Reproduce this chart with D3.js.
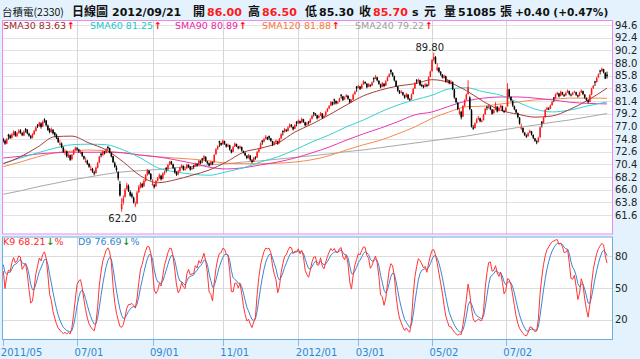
<!DOCTYPE html>
<html><head><meta charset="utf-8">
<script src="https://cdn.jsdelivr.net/npm/d3@7"></script>
<style>
html,body{margin:0;padding:0;background:#e3f2fc;}
svg{display:block;}
</style></head><body>
<svg id="c" width="640" height="359"></svg>
<script>
// daily candles [open, high, low, close], 2011/05 .. 2012/09/21
const ohlc = [
[74.8,75.0,74.2,74.5],[74.5,74.7,73.8,74.0],[74.0,75.0,73.9,74.8],[75.5,75.7,74.7,75.3],[75.4,75.6,74.8,75.0],[75.0,75.8,74.9,75.6],[75.5,76.3,75.4,76.0],[76.1,76.2,75.2,75.4],[75.3,76.0,75.1,75.8],[75.9,76.5,75.7,76.2],
[76.3,76.5,75.7,75.9],[75.8,76.0,75.3,75.5],[75.4,76.3,75.3,76.1],[76.5,76.7,75.9,76.3],[76.4,76.5,75.6,75.8],[75.7,75.9,75.2,75.4],[75.3,75.5,74.8,75.0],[75.0,75.8,74.9,75.6],[75.6,76.4,75.5,76.2],[76.2,77.0,76.1,76.8],
[77.2,77.4,76.7,77.0],[77.1,77.8,76.9,77.6],[77.5,77.7,76.6,76.9],[77.0,78.0,76.9,77.8],[78.2,78.4,77.6,78.0],[78.0,78.1,77.0,77.2],[77.1,77.3,76.2,76.4],[76.5,76.7,75.8,76.0],[76.0,76.8,75.9,76.5],[76.4,76.5,75.6,75.8],
[75.9,76.0,75.2,75.5],[75.5,75.7,74.8,75.0],[75.0,75.1,74.1,74.3],[73.8,74.6,73.7,74.0],[74.0,74.2,73.2,73.4],[73.3,73.5,72.4,72.6],[72.4,73.0,72.0,72.5],[72.6,72.8,71.6,71.8],[71.7,72.3,71.5,72.0],[72.0,72.1,71.0,71.2],
[71.3,72.2,71.1,72.0],[72.1,73.0,72.0,72.8],[72.9,73.5,72.7,73.2],[73.2,73.4,72.8,73.0],[73.0,73.1,72.4,72.6],[72.5,72.9,72.2,72.5],[72.5,72.6,71.7,71.9],[71.8,71.9,71.2,71.4],[70.8,71.6,70.7,71.0],[71.0,71.2,70.3,70.5],
[70.5,70.6,69.8,70.0],[69.4,70.2,69.3,69.6],[69.6,69.8,68.9,69.2],[69.0,69.3,68.5,68.8],[68.9,70.0,68.8,69.8],[69.8,70.8,69.7,70.6],[70.7,71.9,70.6,71.7],[72.2,72.4,71.6,72.0],[72.0,72.8,71.9,72.6],[72.6,72.7,72.1,72.4],
[72.4,73.2,72.3,73.0],[73.4,73.6,72.9,73.2],[73.2,73.3,72.3,72.5],[72.4,72.5,71.6,71.8],[71.8,71.9,70.6,70.8],[70.6,70.9,69.8,70.0],[69.8,70.2,69.1,69.4],[69.0,69.2,67.6,68.0],[67.0,67.5,64.8,65.0],[62.6,64.5,62.2,63.5],
[63.8,65.0,63.4,64.5],[64.8,66.3,64.6,66.0],[66.2,67.2,66.0,66.8],[66.6,66.9,65.6,65.8],[65.6,65.9,64.8,65.0],[65.2,65.5,64.5,64.8],[64.6,64.8,63.6,63.8],[63.5,63.9,63.0,63.5],[63.6,65.8,63.5,65.5],[65.6,66.8,65.4,66.5],
[66.4,67.3,66.2,67.0],[67.0,67.2,66.3,66.5],[66.6,67.8,66.5,67.5],[67.5,68.7,67.4,68.5],[68.6,69.6,68.4,69.4],[69.3,69.4,68.6,68.8],[68.7,68.9,67.6,67.8],[66.8,67.8,66.7,67.0],[66.8,67.0,66.2,66.5],[66.6,67.7,66.5,67.5],
[67.6,68.2,67.4,68.0],[68.0,68.8,67.9,68.5],[68.4,68.6,67.6,67.8],[67.9,69.0,67.8,68.8],[68.8,69.3,68.6,69.0],[69.8,69.9,69.0,69.5],[69.5,70.5,69.4,70.3],[70.4,71.0,70.2,70.8],[70.9,71.0,70.3,70.5],[70.4,70.5,69.6,69.8],
[69.7,69.9,68.8,69.0],[69.0,69.2,68.4,68.6],[68.7,69.4,68.5,69.2],[69.2,70.0,69.1,69.8],[69.9,70.4,69.7,70.2],[70.1,70.2,69.3,69.5],[69.5,69.9,69.3,69.6],[69.7,70.5,69.6,70.3],[70.3,70.4,69.8,70.0],[70.0,70.1,69.3,69.5],
[69.6,70.0,69.4,69.8],[70.2,70.3,69.6,70.0],[70.1,70.7,70.0,70.5],[70.5,70.6,70.0,70.2],[70.3,71.2,70.2,71.0],[71.0,71.1,70.4,70.6],[71.4,71.5,70.6,71.2],[71.3,72.0,71.1,71.8],[71.7,71.8,70.8,71.0],[70.9,71.0,70.4,70.6],
[70.6,70.7,70.0,70.2],[70.3,71.0,70.2,70.8],[70.8,70.9,70.3,70.5],[70.8,72.2,70.7,72.0],[72.2,73.2,72.0,73.0],[73.1,73.7,72.9,73.5],[74.4,74.5,73.4,74.2],[74.1,74.2,73.6,73.8],[73.9,74.7,73.8,74.5],[74.4,74.5,73.8,74.0],
[73.9,74.0,73.3,73.5],[73.5,74.0,73.4,73.8],[73.7,73.8,72.8,73.0],[72.9,73.0,72.3,72.5],[72.6,73.6,72.5,73.4],[73.5,74.2,73.4,74.0],[73.9,74.0,73.4,73.6],[73.5,73.6,73.0,73.2],[73.2,73.7,73.1,73.5],[73.4,73.5,72.6,72.8],
[72.7,72.8,72.3,72.5],[72.4,72.5,71.8,72.0],[71.9,72.0,71.3,71.5],[71.5,72.2,71.4,72.0],[71.9,72.0,71.0,71.2],[71.1,71.3,70.6,70.8],[70.9,71.7,70.8,71.5],[71.6,71.8,71.2,71.5],[71.6,72.7,71.5,72.5],[72.6,73.2,72.4,73.0],
[73.1,74.2,73.0,74.0],[74.5,74.6,73.8,74.3],[74.4,75.0,74.2,74.8],[74.9,75.5,74.7,75.2],[75.1,75.2,74.6,74.8],[75.3,75.4,74.6,75.0],[74.9,75.0,74.3,74.5],[74.4,74.5,73.6,73.8],[73.9,74.4,73.7,74.2],[74.2,74.7,74.0,74.5],
[74.4,74.5,73.8,74.0],[74.1,75.0,74.0,74.8],[74.9,75.8,74.8,75.6],[76.2,76.3,75.4,76.0],[76.1,76.7,75.9,76.5],[76.4,76.5,76.0,76.2],[76.2,77.0,76.1,76.8],[76.9,77.5,76.7,77.3],[77.2,77.4,76.8,77.0],[76.9,77.0,76.3,76.5],
[76.6,77.4,76.5,77.2],[77.8,77.9,77.0,77.5],[77.6,78.2,77.4,78.0],[77.9,78.0,77.4,77.6],[77.7,78.5,77.6,78.3],[78.2,78.3,77.6,77.8],[77.7,77.8,77.0,77.2],[77.3,77.7,77.1,77.5],[77.8,77.9,77.3,77.6],[77.7,78.4,77.6,78.2],
[78.3,79.0,78.2,78.8],[79.4,79.5,78.7,79.2],[79.2,79.3,78.8,79.0],[78.9,79.0,78.2,78.4],[78.5,79.0,78.4,78.8],[78.9,79.5,78.8,79.3],[79.2,79.3,78.3,78.5],[78.5,79.0,78.4,78.8],[78.9,79.7,78.8,79.5],[79.6,80.2,79.5,80.0],
[80.1,80.7,80.0,80.5],[80.6,81.4,80.5,81.2],[81.2,81.3,80.6,80.8],[81.7,81.8,80.8,81.5],[81.4,81.5,80.8,81.0],[81.0,81.4,80.9,81.2],[81.3,82.0,81.2,81.8],[82.5,82.6,81.8,82.3],[82.2,82.3,81.4,81.6],[81.7,82.2,81.6,82.0],
[82.1,82.6,82.0,82.4],[82.3,82.4,81.6,81.8],[81.7,81.8,81.0,81.2],[81.3,81.7,81.1,81.5],[81.6,82.7,81.5,82.5],[82.6,83.2,82.5,83.0],[83.9,84.0,83.0,83.6],[83.7,84.2,83.6,84.0],[83.9,84.0,83.3,83.5],[83.6,84.4,83.5,84.2],
[84.3,85.0,84.2,84.8],[84.7,84.8,84.3,84.5],[84.4,84.5,83.6,83.8],[83.9,84.5,83.8,84.3],[84.2,84.3,83.8,84.0],[84.1,84.8,84.0,84.6],[85.4,85.5,84.6,85.2],[85.3,85.9,85.2,85.6],[85.5,85.6,84.8,85.0],[84.9,85.0,84.2,84.4],
[84.3,84.4,83.6,83.8],[83.9,84.7,83.8,84.5],[84.4,84.5,83.8,84.0],[84.1,85.0,84.0,84.8],[84.9,85.7,84.8,85.5],[85.6,86.2,85.5,86.0],[86.8,86.9,86.0,86.4],[86.3,86.4,85.6,85.8],[85.7,85.8,84.8,85.0],[84.9,85.0,83.8,84.0],
[83.9,84.0,83.0,83.2],[83.1,83.3,82.6,82.8],[82.9,83.3,82.7,83.0],[82.9,83.0,82.3,82.5],[82.4,82.5,81.8,82.0],[82.1,82.8,82.0,82.6],[82.5,82.6,81.6,81.8],[81.7,81.9,81.4,81.6],[81.7,82.7,81.6,82.5],[82.6,83.7,82.5,83.5],
[83.6,84.7,83.5,84.5],[85.0,85.2,84.4,84.8],[84.9,85.3,84.7,85.0],[85.0,85.1,84.0,84.2],[84.2,84.4,83.8,84.0],[84.0,84.2,83.6,83.8],[83.9,84.5,83.8,84.3],[84.2,84.4,83.8,84.0],[84.1,85.7,84.0,85.5],[85.6,86.7,85.5,86.5],
[86.6,88.7,86.5,88.5],[88.6,89.8,88.3,89.0],[89.0,89.2,87.8,88.0],[86.8,88.0,86.6,87.2],[87.1,87.3,86.3,86.5],[86.4,86.6,85.8,86.0],[85.9,86.1,85.3,85.5],[85.4,86.0,85.3,85.8],[85.7,85.8,84.6,84.8],[84.8,85.2,84.6,85.0],
[85.0,85.1,84.3,84.5],[84.4,85.0,84.3,84.8],[84.7,84.8,83.3,83.5],[83.4,83.5,81.8,82.0],[81.9,82.0,81.0,81.2],[81.1,81.2,79.8,80.0],[79.2,80.1,79.0,79.6],[79.5,79.7,78.2,78.6],[78.7,80.7,78.6,80.5],[80.6,81.7,80.4,81.5],
[81.6,82.7,81.5,82.5],[82.6,85.0,82.5,83.8],[82.0,82.2,79.8,80.0],[79.8,80.0,76.8,77.0],[76.8,77.2,76.4,76.6],[76.7,77.7,76.6,77.5],[77.6,78.4,77.5,78.2],[78.3,78.8,78.1,78.5],[78.4,78.5,77.7,77.9],[77.8,78.2,77.7,78.0],
[78.1,79.2,78.0,79.0],[79.1,80.2,79.0,80.0],[80.4,80.5,79.8,80.2],[80.3,80.8,80.1,80.5],[80.4,80.5,79.8,80.0],[79.9,80.0,79.0,79.2],[79.3,80.0,79.2,79.8],[79.9,81.2,79.8,80.5],[80.4,80.5,79.4,79.6],[79.7,80.4,79.6,80.2],
[80.3,80.8,80.1,80.6],[80.5,80.6,79.6,79.8],[79.7,79.8,79.3,79.5],[79.6,80.4,79.5,80.2],[80.5,84.5,80.4,83.5],[83.4,83.5,82.0,82.2],[82.1,82.2,81.3,81.5],[81.4,81.5,80.4,80.6],[80.5,80.6,79.8,80.0],[79.9,80.0,79.2,79.4],
[79.3,79.4,78.4,78.6],[78.5,78.6,77.3,77.5],[76.6,77.5,76.4,76.8],[76.7,76.8,75.8,76.0],[75.9,76.0,75.3,75.5],[75.4,75.6,75.0,75.2],[75.3,76.0,75.2,75.8],[75.9,76.4,75.8,76.2],[76.1,76.2,75.4,75.6],[75.5,75.6,74.8,75.0],
[74.9,75.0,74.3,74.5],[74.4,74.6,73.9,74.2],[74.3,75.2,74.2,75.0],[75.1,77.0,75.0,76.8],[77.8,77.9,76.8,77.5],[77.6,78.7,77.5,78.5],[78.6,80.0,78.5,79.8],[79.9,80.4,79.8,80.2],[80.1,80.3,79.8,80.0],[80.1,80.8,80.0,80.6],
[80.7,81.4,80.6,81.2],[82.0,82.1,81.2,81.8],[81.9,82.7,81.8,82.5],[82.6,83.0,82.4,82.8],[82.7,82.8,82.0,82.2],[82.3,83.2,82.2,83.0],[82.9,83.0,82.4,82.6],[82.5,82.6,82.1,82.3],[82.4,83.0,82.3,82.8],[82.9,83.4,82.8,83.2],
[83.1,83.2,82.4,82.6],[82.5,82.7,82.2,82.4],[82.5,83.0,82.4,82.8],[82.9,83.2,82.8,83.0],[82.9,83.0,82.3,82.5],[82.4,82.5,82.0,82.2],[82.3,83.0,82.2,82.8],[82.9,83.4,82.8,83.2],[83.1,83.2,82.4,82.6],[82.5,82.6,81.8,82.0],
[81.9,82.0,81.4,81.6],[81.5,81.6,81.0,81.2],[81.3,82.6,81.2,82.4],[82.5,83.7,82.4,83.5],[83.6,84.2,83.5,84.0],[84.8,84.9,84.0,84.6],[84.7,85.6,84.6,85.4],[85.5,86.2,85.4,86.0],[86.7,86.8,86.0,86.5],[86.6,87.2,86.5,87.0],
[86.9,87.0,86.2,86.4],[86.3,86.4,85.2,85.3],[86.0,86.5,85.3,85.7]
];

// moving averages read at every 10th trading day (plus the last day)
const smaIdx = [0,10,20,30,40,50,60,70,80,90,100,110,120,130,140,150,160,170,180,190,200,210,220,230,240,250,260,270,280,290,300,310,320,330,340,352];
const sma30  = [70.5,71.7,73.4,75.2,75.3,74.1,72.9,70.8,68.4,67.2,67.7,68.5,69.4,70.8,72.5,73.2,74.1,76.0,77.4,79.0,80.7,82.3,83.3,84.0,84.4,85.1,84.6,83.2,81.3,79.8,79.1,78.6,78.8,79.9,81.4,83.63];
const sma60  = [70.6,71.5,72.4,73.2,73.8,73.9,73.8,72.9,71.5,69.8,69.1,68.7,68.5,69.1,69.8,70.8,71.7,72.9,74.3,75.5,76.9,78.1,79.5,80.7,81.6,82.4,83.5,83.7,83.0,82.4,81.2,80.0,79.5,79.8,80.5,81.25];
const sma90  = [71.5,71.8,72.2,72.4,72.5,72.5,72.5,72.4,72.0,71.7,71.2,70.6,69.9,69.6,69.8,70.3,70.8,71.5,72.4,73.4,74.6,75.7,76.7,77.8,79.0,79.5,80.5,81.4,81.9,82.1,82.1,81.9,81.6,81.2,81.0,80.89];
const sma120 = [70.0,70.8,71.7,72.4,72.7,72.9,72.7,72.4,72.0,71.7,71.5,71.3,71.0,70.6,70.5,70.5,70.6,70.8,71.2,71.9,72.9,73.8,74.6,75.7,76.9,78.4,79.5,80.4,80.5,80.9,81.2,81.6,81.7,81.9,81.9,81.88];
const sma240 = [65.2,65.8,66.5,67.1,67.7,68.2,68.7,69.1,69.3,69.5,69.8,70.0,70.3,70.5,70.8,71.0,71.3,71.6,71.9,72.2,72.6,72.9,73.3,73.7,74.1,74.5,74.9,75.3,75.8,76.3,76.8,77.2,77.7,78.1,78.6,79.22];

const smaNames  = ["SMA30","SMA60","SMA90","SMA120","SMA240"];
const smaLast   = ["83.63","81.25","80.89","81.88","79.22"];
const smaColors = ["#a33f3a","#33d2d2","#e838b0","#f58a4c","#a8a8a8"];
const smaText   = ["#9b2d2d","#22c8c8","#e8289e","#f57a3a","#a0a0a0"];

const dateTickIdx = [0,43,87,128,172,207,250,293];
const dateTickLab = ["2011/05","07/01","09/01","11/01","2012/01","03/01","05/02","07/02"];
const priceTicks = [94.6,92.4,90.2,88.0,85.8,83.6,81.4,79.2,77.0,74.8,72.6,70.4,68.2,66.0,63.8,61.6];
const kdTicks = [80,50,20];
const kdStart = [80,75];   // K, D at the left edge
const kdLast = ["68.21","76.69"];

// header values
const hdr = {name:"台積電(2330)", kind:"日線圖", date:"2012/09/21", open:"86.00", high:"86.50", low:"85.30", close:"85.70", vol:"51085", chg:"+0.40 (+0.47%)"};

const svg = d3.select("#c");
const W = 640, H = 359;
const L = 2, R = 613;
const mainTop = 20, mainBot = 234.5;
const kdTop = 236.5, kdBot = 340;
const n = ohlc.length;

const x = d3.scaleLinear().domain([0, n-1]).range([3.3, 607]);
const y = d3.scaleLinear().domain([61.6, 94.6]).range([215, 25]);
const yk = d3.scaleLinear().domain([0, 100]).range([341.3, 234.7]);

svg.append("rect").attr("width",W).attr("height",H).attr("fill","#e3f2fc");

// panels
svg.append("rect").attr("x",L).attr("y",mainTop).attr("width",R-L).attr("height",mainBot-mainTop).attr("fill","#fff");
svg.append("rect").attr("x",L).attr("y",kdTop).attr("width",R-L).attr("height",kdBot-kdTop).attr("fill","#fff");

const defs = svg.append("defs");
defs.append("clipPath").attr("id","cm").append("rect").attr("x",L).attr("y",mainTop).attr("width",R-L).attr("height",mainBot-mainTop);
defs.append("clipPath").attr("id","ck").append("rect").attr("x",L).attr("y",kdTop).attr("width",R-L).attr("height",kdBot-kdTop);

// grids
const gm = svg.append("g").attr("clip-path","url(#cm)");
gm.selectAll("line.h").data(priceTicks).join("line")
  .attr("x1",L).attr("x2",R).attr("y1",d=>Math.round(y(d))+0.5).attr("y2",d=>Math.round(y(d))+0.5)
  .attr("stroke","#e2e2e2").attr("stroke-width",1);
gm.selectAll("line.v").data(dateTickIdx.slice(1)).join("line")
  .attr("y1",mainTop).attr("y2",mainBot).attr("x1",d=>Math.round(x(d))+0.5).attr("x2",d=>Math.round(x(d))+0.5)
  .attr("stroke","#d6d6d6").attr("stroke-width",1);

const gk = svg.append("g").attr("clip-path","url(#ck)");
gk.selectAll("line.h").data(kdTicks).join("line")
  .attr("x1",L).attr("x2",R).attr("y1",d=>Math.round(yk(d))+0.5).attr("y2",d=>Math.round(yk(d))+0.5)
  .attr("stroke","#dcdcdc").attr("stroke-width",1);
gk.selectAll("line.v").data(dateTickIdx.slice(1)).join("line")
  .attr("y1",kdTop).attr("y2",kdBot).attr("x1",d=>Math.round(x(d))+0.5).attr("x2",d=>Math.round(x(d))+0.5)
  .attr("stroke","#d6d6d6").attr("stroke-width",1);

// moving averages
const smaSeries = [sma30, sma60, sma90, sma120, sma240];
const lineSma = d3.line().x((d,i)=>x(smaIdx[i])).y(d=>y(d)).curve(d3.curveMonotoneX);
[4,3,2,1,0].forEach(k=>{
  gm.append("path").datum(smaSeries[k]).attr("d",lineSma)
    .attr("fill","none").attr("stroke",smaColors[k]).attr("stroke-width",1);
});

// candles
const up = d=>d[3] >= d[0];
const cg = gm.append("g");
cg.selectAll("line.w").data(ohlc).join("line")
  .attr("x1",(d,i)=>x(i)).attr("x2",(d,i)=>x(i))
  .attr("y1",d=>y(d[1])).attr("y2",d=>y(d[2]))
  .attr("stroke",d=>up(d)?"#ff1a1a":"#000").attr("stroke-width",0.9);
cg.selectAll("rect.b").data(ohlc).join("rect")
  .attr("x",(d,i)=>x(i)-0.75).attr("width",1.5)
  .attr("y",d=>y(Math.max(d[0],d[3])))
  .attr("height",d=>Math.max(0.8, Math.abs(y(d[0])-y(d[3]))))
  .attr("fill",d=>up(d)?"#ff1a1a":"#000");

// high / low annotations
const hiI = d3.maxIndex(ohlc, d=>d[1]);
const loI = d3.minIndex(ohlc, d=>d[2]);
svg.append("text").attr("x",x(hiI)-4).attr("y",y(ohlc[hiI][1])-2).attr("text-anchor","middle")
  .attr("font-family","DejaVu Sans").attr("font-size",10).attr("fill","#222").text(ohlc[hiI][1].toFixed(2));
svg.append("text").attr("x",x(loI)+1).attr("y",y(ohlc[loI][2])+10).attr("text-anchor","middle")
  .attr("font-family","DejaVu Sans").attr("font-size",10).attr("fill","#222").text(ohlc[loI][2].toFixed(2));

// KD (9-day stochastic) from the candles
const K = [], D = [];
let kv = kdStart[0], dv = kdStart[1];
for (let i=0;i<n;i++){
  const s = ohlc.slice(Math.max(0,i-8), i+1);
  const hh = d3.max(s,d=>d[1]), ll = d3.min(s,d=>d[2]);
  const rsv = hh===ll ? 50 : (ohlc[i][3]-ll)/(hh-ll)*100;
  kv = kv*2/3 + rsv/3; dv = dv*2/3 + kv/3;
  K.push(kv); D.push(dv);
}
const lineK = d3.line().x((d,i)=>x(i)).y(d=>yk(d));
gk.append("path").datum(D).attr("d",lineK).attr("fill","none").attr("stroke","#3a86d4").attr("stroke-width",1);
gk.append("path").datum(K).attr("d",lineK).attr("fill","none").attr("stroke","#ff3535").attr("stroke-width",1);

// panel borders
svg.append("rect").attr("x",L+0.5).attr("y",mainTop+0.5).attr("width",R-L-1).attr("height",mainBot-mainTop-1)
  .attr("fill","none").attr("stroke","#ee88ee");
svg.append("rect").attr("x",L+0.5).attr("y",kdTop+0.5).attr("width",R-L-1).attr("height",kdBot-kdTop-1)
  .attr("fill","none").attr("stroke","#6aaee2");

// right axis labels
svg.selectAll("text.py").data(priceTicks).join("text")
  .attr("x",615).attr("y",d=>y(d)+3.5).attr("font-family","DejaVu Sans").attr("font-size",10)
  .attr("fill","#222").text(d=>d.toFixed(1));
svg.selectAll("text.ky").data(kdTicks).join("text")
  .attr("x",615).attr("y",d=>yk(d)+3.5).attr("font-family","DejaVu Sans").attr("font-size",10)
  .attr("fill","#222").text(d=>d);

// bottom date axis
const xa = svg.append("g");
xa.selectAll("line").data(dateTickIdx).join("line")
  .attr("x1",d=>Math.round(x(d))+0.5).attr("x2",d=>Math.round(x(d))+0.5).attr("y1",kdBot).attr("y2",kdBot+6)
  .attr("stroke","#8fb9dc");
xa.selectAll("text").data(dateTickIdx).join("text")
  .attr("x",d=>Math.max(0.5, x(d)-2.5)).attr("y",356).attr("font-family","DejaVu Sans").attr("font-size",10)
  .attr("fill","#2f86cf").text((d,i)=>dateTickLab[i]);

// SMA legend
const lg = svg.append("g").attr("font-family","DejaVu Sans").attr("font-size",9.5);
const lgX = [3,90,175,262,355];
smaNames.forEach((nm,k)=>{
  const t = lg.append("text").attr("x",lgX[k]).attr("y",29).attr("fill",smaText[k]);
  t.append("tspan").text(nm+" "+smaLast[k]);
  t.append("tspan").attr("fill","#ff1010").attr("font-weight","bold").attr("dx",1).text("↑");
});

// KD legend
const kl = svg.append("g").attr("font-family","DejaVu Sans").attr("font-size",9.5);
const kt = kl.append("text").attr("x",3).attr("y",244.5).attr("fill","#ff2a2a");
kt.append("tspan").text("K9 "+kdLast[0]);
kt.append("tspan").attr("fill","#1b9a2a").attr("font-weight","bold").attr("dx",1).text("↓");
kt.append("tspan").text("%");
const dt = kl.append("text").attr("x",78).attr("y",244.5).attr("fill","#2f86cf");
dt.append("tspan").text("D9 "+kdLast[1]);
dt.append("tspan").attr("fill","#1b9a2a").attr("font-weight","bold").attr("dx",1).text("↓");
dt.append("tspan").text("%");

// header
const hg = svg.append("g");
const cjk = "'Noto Sans CJK TC','Noto Sans CJK SC',sans-serif";
const num = "'DejaVu Sans',sans-serif";
const H1 = [
  [hdr.name, 2, cjk, 10.5, "normal", "#111"],
  [hdr.kind, 72, cjk, 12, "bold", "#111"],
  [hdr.date, 112, num, 11, "bold", "#111"],
  ["開", 193, cjk, 12, "bold", "#111"],
  [hdr.open, 207, num, 11, "bold", "#ff1a1a"],
  ["高", 248, cjk, 12, "bold", "#111"],
  [hdr.high, 262, num, 11, "bold", "#ff1a1a"],
  ["低", 305, cjk, 12, "bold", "#111"],
  [hdr.low, 319, num, 11, "bold", "#111"],
  ["收", 359, cjk, 12, "bold", "#111"],
  [hdr.close, 373, num, 11, "bold", "#ff1a1a"],
  ["s", 412, num, 11, "bold", "#111"],
  ["元", 424, cjk, 12, "bold", "#111"],
  ["量", 444, cjk, 12, "bold", "#111"],
  [hdr.vol, 458, num, 11, "bold", "#111"],
  ["張", 500, cjk, 12, "bold", "#111"],
  [hdr.chg, 515, num, 10.5, "bold", "#111"]
];
H1.forEach(h=>{
  hg.append("text").attr("x",h[1]).attr("y",15.5).attr("font-family",h[2]).attr("font-size",h[3])
    .attr("font-weight",h[4]).attr("fill",h[5]).text(h[0]);
});
</script>
</body></html>
